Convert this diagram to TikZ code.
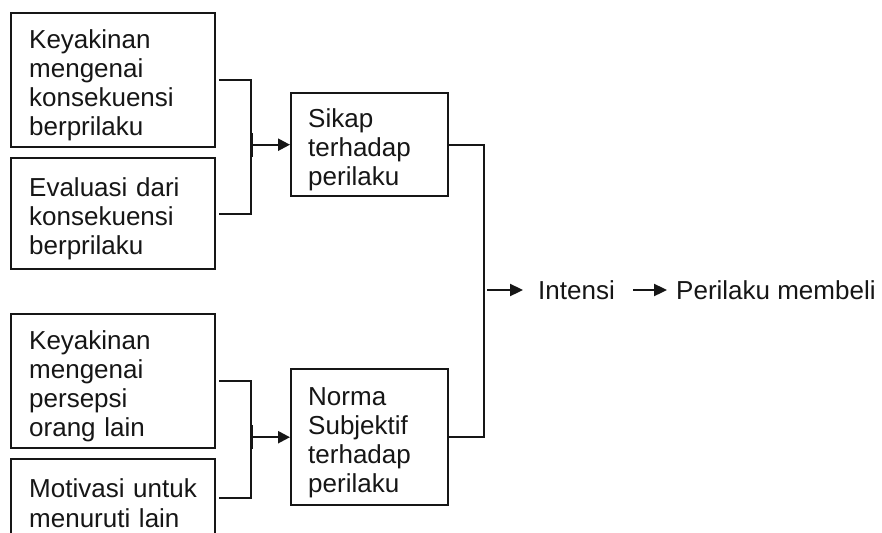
\documentclass[tikz,border=0pt]{standalone}
\usepackage{fontspec}
\setmainfont{Liberation Sans}
\usetikzlibrary{arrows.meta}
\definecolor{ink}{RGB}{22,22,22}
\begin{document}
\begin{tikzpicture}[x=1pt,y=-1pt,
  every node/.style={font=\fontsize{26}{29.3}\selectfont, text=ink},
  box/.style={draw=ink, line width=2.4pt, align=left, inner xsep=18pt, inner ysep=0pt,
              anchor=north west, execute at begin node={\rule{0pt}{29pt}}},
  label/.style={inner sep=0pt, anchor=west},
  link/.style={draw=ink, line width=2.3pt},
  tip/.style={-{Triangle[length=13pt,width=12pt]}},
  bartip/.style={{Bar[width=24pt]}-{Triangle[length=12pt,width=12pt]}}]

\fill[white] (0,0) rectangle (882,532);
\useasboundingbox (0,0) rectangle (882,532);

% input boxes on the left
\node[box, minimum width=204pt, minimum height=134pt, text width=168pt] (b1) at (10,12)
  {Keyakinan\\mengenai\\konsekuensi\\berprilaku};
\node[box, minimum width=204pt, minimum height=111pt, text width=168pt] (b2) at (10,157)
  {Evaluasi dari\\konsekuensi\\berprilaku};
\node[box, minimum width=204pt, minimum height=134pt, text width=168pt] (b3) at (10,313)
  {Keyakinan\\mengenai\\persepsi\\orang lain};
\node[box, minimum width=204pt, minimum height=78pt, text width=168pt] (b4) at (10,458)
  {Motivasi untuk\\menuruti lain};

% middle boxes
\node[box, minimum width=157pt, minimum height=103pt, text width=123pt, inner xsep=17pt] (sikap) at (290,92)
  {Sikap\\terhadap\\perilaku};
\node[box, minimum width=157pt, minimum height=136pt, text width=123pt, inner xsep=17pt] (norma) at (290,368)
  {Norma\\Subjektif\\terhadap\\perilaku};

% outcome labels
\node[label] (intensi) at (538,290) {Intensi};
\node[label] (perilaku) at (676,290) {Perilaku membeli};

% junction points of the brackets
\coordinate (j1) at (251,143.5);
\coordinate (j2) at (484,290);
\coordinate (j3) at (251,436);

% upper bracket into attitude
\draw[link] ([xshift=3pt]b1.east) -| (j1) |- ([xshift=3pt]b2.east);
\draw[link, bartip] (j1 |- sikap.west) -- (sikap.west);

% lower bracket into subjective norm
\draw[link] ([xshift=3pt]b3.east) -| (j3) |- ([xshift=3pt]b4.east);
\draw[link, bartip] (j3 |- norma.west) -- (norma.west);

% right bracket into intention
\draw[link] (sikap.east) -| (j2) |- (norma.east);
\draw[link, tip, shorten >=15pt] ([xshift=3pt]j2) -- (intensi.west);
\draw[link, tip, shorten <=18pt, shorten >=9pt] (intensi.east) -- (perilaku.west);
\end{tikzpicture}
\end{document}
